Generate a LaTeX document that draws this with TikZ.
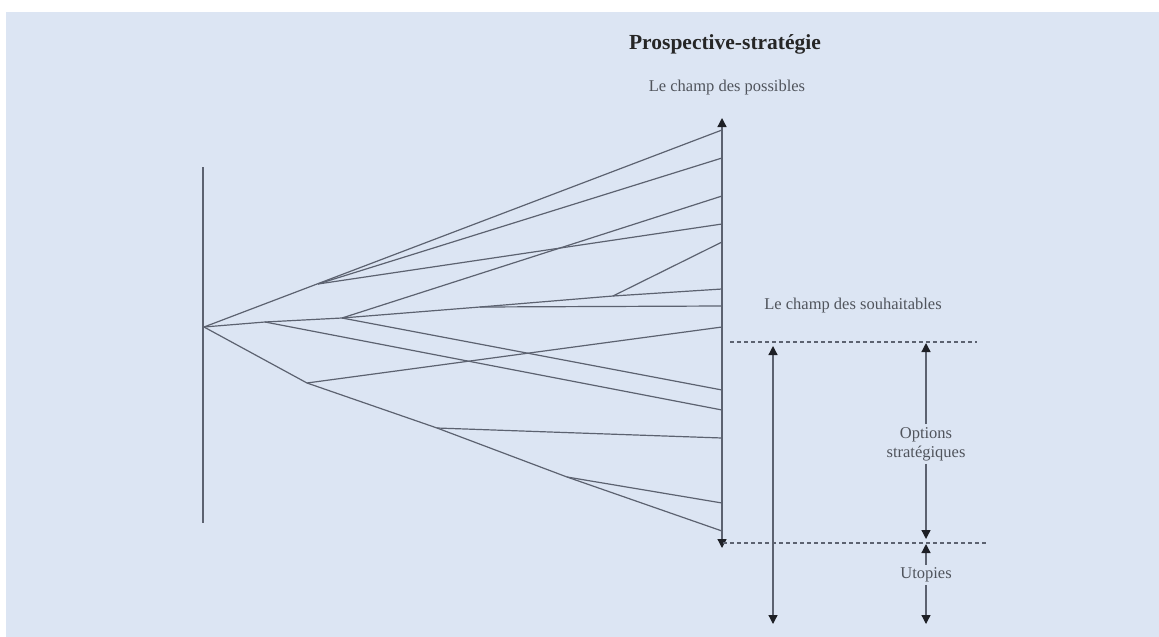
\documentclass[tikz,border=0pt]{standalone}
\usepackage{fontspec}
\setmainfont{Liberation Serif}
\usetikzlibrary{arrows.meta}
\definecolor{bgblue}{RGB}{220,229,243}
\definecolor{fanline}{RGB}{92,98,112}
\definecolor{txtgray}{RGB}{80,84,92}
\definecolor{tipcol}{RGB}{30,32,38}
\tikzset{
  fan/.style={draw=fanline, line width=1.2pt},
  axisline/.style={draw=fanline, line width=1.3pt},
  tip/.style={-{Triangle[width=9pt,length=9pt,color=tipcol]}},
  tips/.style={{Triangle[width=9pt,length=9pt,color=tipcol]}-{Triangle[width=9pt,length=9pt,color=tipcol]}},
  dashline/.style={draw=fanline, line width=1.1pt, dash pattern=on 4pt off 3pt},
  lbl/.style={text=txtgray, font=\fontsize{16.5}{19}\selectfont, inner sep=3pt},
}
\begin{document}
\begin{tikzpicture}[x=1pt,y=-1pt]
\useasboundingbox (0,0) rectangle (1159,637);
\fill[white] (0,0) rectangle (1159,637);
\fill[bgblue] (6,12) rectangle (1159,637);

% texts
\node[font=\fontsize{21.5}{24}\selectfont\bfseries, text=black!85] (title) at (725,44) {Prospective-stratégie};
\node[lbl] (poss) at (727,88) {Le champ des possibles};
\node[lbl] (souh) at (853,306) {Le champ des souhaitables};
\node[lbl, align=center] (opt) at (926,444) {Options\\stratégiques};
\node[lbl] (utop) at (926,575) {Utopies};

% base line and origin
\coordinate (baseTop) at (203,167);
\coordinate (baseBot) at (203,523);
\draw[axisline] (baseTop) -- (baseBot);
\coordinate (O) at (204,327);

% right axis
\coordinate (axTop) at (722,118);
\coordinate (axBot) at (722,548);
\draw[axisline, tips] (axBot) -- (axTop);

% end points on the axis
\coordinate (E1) at (722,130);
\coordinate (E2) at (722,158);
\coordinate (E3) at (722,196);
\coordinate (E4) at (722,224);
\coordinate (E5) at (722,242);
\coordinate (E6) at (722,289);
\coordinate (E7) at (722,306);
\coordinate (E8) at (722,327);
\coordinate (E9) at (722,390);
\coordinate (E10) at (722,410);
\coordinate (E11) at (722,438);
\coordinate (E12) at (722,503);
\coordinate (E13) at (722,531);

% branch points
\coordinate (U) at (318,284);
\coordinate (H1) at (265,322);
\coordinate (H2) at (342,318);
\coordinate (H3) at (480,307);
\coordinate (H4) at (613,296);
\coordinate (L1) at (307,383);
\coordinate (L2) at (437,428);
\coordinate (L2b) at (550,432);
\coordinate (L3) at (567,477);

% fan lines
\draw[fan] (O) -- (E1);
\draw[fan] (U) -- (E2);
\draw[fan] (U) -- (E4);
\draw[fan] (O) -- (H1) -- (H2) -- (H3) -- (E7);
\draw[fan] (H3) -- (H4) -- (E6);
\draw[fan] (H4) -- (E5);
\draw[fan] (H2) -- (E3);
\draw[fan] (H2) -- (E9);
\draw[fan] (H1) -- (E10);
\draw[fan] (O) -- (L1) -- (L2) -- (L3) -- (E13);
\draw[fan] (L3) -- (E12);
\draw[fan] (L2) -- (L2b) -- (E11);
\draw[fan] (L1) -- (E8);

% dashed levels
\coordinate (d1a) at (730,342);
\coordinate (d1b) at (977,342);
\coordinate (d2a) at (723,543);
\coordinate (d2b) at (987,543);
\draw[dashline] (d1a) -- (d1b);
\draw[dashline] (d2a) -- (d2b);

% long double arrow
\coordinate (laTop) at (773,346);
\coordinate (laBot) at (773,624);
\draw[axisline, tips] (laBot) -- (laTop);

% options / utopies arrows
\coordinate (optTop) at (926,343);
\coordinate (optBot) at (926,539);
\coordinate (utTop) at (926,544);
\coordinate (utBot) at (926,624);
\draw[axisline, tip] (opt.north) -- (optTop);
\draw[axisline, tip] (opt.south) -- (optBot);
\draw[axisline, tip] (utop.north) -- (utTop);
\draw[axisline, tip] (utop.south) -- (utBot);
\end{tikzpicture}
\end{document}
